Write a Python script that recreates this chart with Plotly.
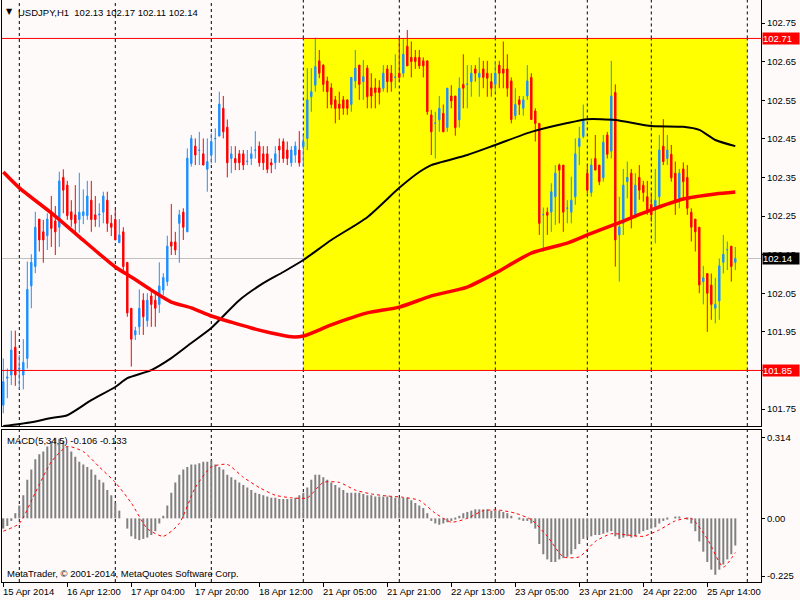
import plotly.graph_objects as go

# ---------------- data ----------------
bars = list(range(184))
opens = [101.760,101.830,101.838,101.910,101.854,101.838,101.881,102.069,102.119,102.242,
         102.209,102.199,102.260,102.237,102.221,102.350,102.330,102.261,102.253,102.241,
         102.251,102.251,102.291,102.253,102.253,102.260,102.291,102.231,102.241,102.181,
         102.209,102.130,102.011,101.942,101.963,102.032,101.979,102.043,102.032,102.021,
         102.058,102.080,102.183,102.183,102.231,102.260,102.209,102.386,102.431,102.420,
         102.411,102.371,102.408,102.450,102.457,102.529,102.480,102.399,102.399,102.411,
         102.411,102.391,102.399,102.420,102.431,102.411,102.411,102.388,102.388,102.431,
         102.443,102.421,102.388,102.408,102.421,102.430,102.451,102.559,102.589,102.652,
         102.641,102.600,102.582,102.551,102.540,102.551,102.551,102.539,102.600,102.641,
         102.598,102.633,102.582,102.582,102.582,102.581,102.631,102.620,102.609,102.620,
         102.620,102.690,102.661,102.661,102.661,102.652,102.652,102.512,102.490,102.499,
         102.516,102.479,102.561,102.561,102.499,102.591,102.591,102.598,102.631,102.609,
         102.631,102.620,102.598,102.591,102.641,102.631,102.631,102.600,102.510,102.551,
         102.529,102.561,102.609,102.522,102.490,102.253,102.260,102.260,102.300,102.382,
         102.382,102.270,102.260,102.300,102.430,102.456,102.361,102.311,102.399,102.382,
         102.349,102.460,102.418,102.570,102.201,102.231,102.339,102.361,102.248,102.350,
         102.330,102.300,102.280,102.266,102.300,102.431,102.399,102.410,102.361,102.292,
         102.372,102.350,102.260,102.242,102.221,102.080,102.101,102.071,102.011,102.030,
         102.130,102.162,102.172,102.130]
highs = [101.881,101.855,101.953,101.953,101.890,101.931,102.132,102.151,102.261,102.242,
         102.240,102.257,102.302,102.276,102.365,102.371,102.341,102.291,102.330,102.362,
         102.319,102.341,102.341,102.302,102.283,102.313,102.313,102.253,102.266,102.242,
         102.221,102.130,102.011,101.963,102.060,102.050,102.050,102.060,102.050,102.130,
         102.102,102.199,102.281,102.209,102.266,102.270,102.425,102.460,102.451,102.468,
         102.451,102.451,102.464,102.477,102.572,102.561,102.500,102.431,102.431,102.421,
         102.421,102.421,102.430,102.470,102.443,102.431,102.431,102.399,102.431,102.451,
         102.451,102.443,102.431,102.443,102.470,102.460,102.633,102.633,102.712,102.680,
         102.643,102.611,102.594,102.561,102.572,102.561,102.551,102.609,102.680,102.641,
         102.654,102.641,102.620,102.607,102.602,102.641,102.641,102.641,102.669,102.712,
         102.710,102.732,102.702,102.680,102.680,102.661,102.652,102.525,102.520,102.561,
         102.539,102.582,102.589,102.561,102.609,102.669,102.641,102.641,102.641,102.661,
         102.652,102.652,102.620,102.652,102.652,102.702,102.669,102.609,102.581,102.561,
         102.561,102.641,102.620,102.529,102.490,102.272,102.272,102.335,102.382,102.386,
         102.382,102.291,102.352,102.451,102.481,102.539,102.382,102.399,102.460,102.382,
         102.460,102.468,102.652,102.591,102.300,102.372,102.391,102.372,102.361,102.382,
         102.341,102.341,102.311,102.372,102.460,102.501,102.460,102.434,102.391,102.372,
         102.389,102.382,102.270,102.242,102.221,102.121,102.101,102.101,102.090,102.140,
         102.201,102.184,102.172,102.170]
lows = [101.739,101.778,101.812,101.810,101.801,101.801,101.855,102.011,102.102,102.158,
        102.129,102.162,102.170,102.149,102.170,102.257,102.240,102.222,102.207,102.207,
        102.229,102.240,102.209,102.222,102.221,102.231,102.209,102.198,102.188,102.181,
        102.102,101.989,101.860,101.929,101.942,101.942,101.963,101.963,101.963,101.999,
        102.045,102.069,102.149,102.149,102.129,102.188,102.209,102.378,102.382,102.382,
        102.382,102.313,102.386,102.388,102.457,102.451,102.350,102.361,102.369,102.369,
        102.369,102.382,102.382,102.399,102.378,102.369,102.361,102.361,102.371,102.388,
        102.388,102.382,102.378,102.388,102.378,102.378,102.421,102.520,102.572,102.607,
        102.572,102.529,102.529,102.490,102.499,102.512,102.512,102.520,102.581,102.551,
        102.551,102.529,102.529,102.529,102.539,102.572,102.570,102.572,102.581,102.598,
        102.609,102.639,102.609,102.631,102.631,102.609,102.512,102.408,102.399,102.468,
        102.468,102.468,102.529,102.458,102.479,102.529,102.529,102.559,102.598,102.559,
        102.581,102.559,102.559,102.570,102.581,102.581,102.559,102.490,102.500,102.512,
        102.510,102.551,102.500,102.443,102.201,102.158,102.201,102.209,102.227,102.231,
        102.209,102.231,102.231,102.279,102.382,102.451,102.309,102.300,102.369,102.330,
        102.339,102.399,102.399,102.119,102.080,102.201,102.296,102.218,102.244,102.292,
        102.287,102.253,102.235,102.179,102.274,102.382,102.382,102.339,102.253,102.270,
        102.292,102.253,102.184,102.158,102.050,102.021,101.950,101.981,101.972,101.981,
        102.101,102.110,102.080,102.110]
closes = [101.821,101.833,101.903,101.838,101.856,101.871,102.060,102.130,102.221,102.188,
          102.188,102.242,102.218,102.209,102.341,102.317,102.251,102.241,102.231,102.260,
          102.261,102.302,102.241,102.241,102.255,102.302,102.231,102.221,102.188,102.201,
          102.119,101.999,101.931,101.953,102.011,101.989,102.032,102.021,102.011,102.069,
          102.091,102.172,102.172,102.162,102.253,102.221,102.400,102.451,102.408,102.421,
          102.382,102.391,102.443,102.451,102.540,102.468,102.388,102.411,102.388,102.388,
          102.382,102.392,102.411,102.421,102.388,102.388,102.371,102.382,102.411,102.421,
          102.399,102.399,102.421,102.431,102.388,102.443,102.551,102.572,102.637,102.620,
          102.591,102.572,102.539,102.529,102.529,102.529,102.529,102.609,102.633,102.591,
          102.611,102.559,102.561,102.570,102.570,102.620,102.598,102.598,102.610,102.609,
          102.669,102.639,102.650,102.650,102.639,102.639,102.520,102.468,102.491,102.529,
          102.468,102.581,102.548,102.479,102.581,102.581,102.592,102.620,102.620,102.620,
          102.609,102.607,102.581,102.620,102.620,102.620,102.581,102.500,102.539,102.539,
          102.551,102.600,102.500,102.490,102.231,102.254,102.252,102.313,102.361,102.369,
          102.260,102.271,102.291,102.411,102.451,102.499,102.317,102.382,102.369,102.339,
          102.441,102.410,102.561,102.188,102.222,102.330,102.350,102.244,102.330,102.317,
          102.311,102.266,102.253,102.291,102.421,102.391,102.421,102.349,102.287,102.361,
          102.339,102.270,102.221,102.209,102.071,102.090,102.050,102.021,102.021,102.121,
          102.151,102.163,102.119,102.140]

ma_red_bars = [0, 4, 12, 19, 28, 32, 37, 42, 47, 52, 57, 62, 67, 72, 75, 82, 91, 99,
               107, 116, 123, 132, 141, 146, 153, 162, 170, 178, 183]
ma_red_vals = [102.364, 102.323, 102.258, 102.196, 102.118, 102.092, 102.058, 102.027,
               102.012, 101.991, 101.975, 101.960, 101.947, 101.937, 101.939, 101.968,
               101.999, 102.014, 102.043, 102.066, 102.102, 102.154, 102.180, 102.201,
               102.229, 102.266, 102.294, 102.307, 102.312]
ma_black_bars = [0, 7, 12, 16, 22, 28, 31, 37, 42, 47, 52, 59, 65, 70, 75, 82, 91, 99,
                 104, 107, 116, 123, 132, 141, 146, 153, 162, 170, 174, 178, 183]
ma_black_vals = [101.706, 101.716, 101.727, 101.734, 101.773, 101.807, 101.830, 101.851,
                 101.882, 101.921, 101.960, 102.032, 102.076, 102.105, 102.136, 102.188,
                 102.247, 102.323, 102.364, 102.382, 102.408, 102.434, 102.468, 102.491,
                 102.501, 102.499, 102.483, 102.481, 102.473, 102.447, 102.431]

macd_hist = [-0.04,-0.03,-0.01,0.02,0.05,0.09,0.15,0.19,0.23,0.25,
             0.26,0.28,0.30,0.314,0.31,0.30,0.28,0.26,0.24,0.22,
             0.21,0.20,0.19,0.17,0.15,0.14,0.11,0.09,0.06,0.03,
             0.00,-0.04,-0.07,-0.08,-0.085,-0.08,-0.075,-0.065,-0.05,-0.02,
             0.01,0.05,0.10,0.14,0.17,0.19,0.20,0.21,0.21,0.215,
             0.22,0.22,0.225,0.21,0.20,0.19,0.17,0.16,0.15,0.14,
             0.13,0.12,0.11,0.10,0.095,0.09,0.085,0.08,0.08,0.075,
             0.075,0.075,0.075,0.08,0.09,0.10,0.12,0.15,0.17,0.17,
             0.16,0.15,0.14,0.13,0.12,0.11,0.10,0.10,0.10,0.10,
             0.095,0.09,0.09,0.085,0.085,0.085,0.085,0.085,0.08,0.08,
             0.08,0.08,0.07,0.06,0.05,0.04,0.02,-0.01,-0.02,-0.025,
             -0.02,-0.015,-0.01,-0.005,0.01,0.02,0.025,0.03,0.035,0.035,
             0.035,0.035,0.03,0.03,0.03,0.025,0.02,0.01,0.0,-0.005,
             -0.01,-0.01,-0.02,-0.04,-0.10,-0.14,-0.16,-0.17,-0.17,-0.16,
             -0.155,-0.15,-0.14,-0.12,-0.10,-0.08,-0.075,-0.07,-0.065,-0.065,
             -0.06,-0.055,-0.05,-0.07,-0.08,-0.075,-0.07,-0.075,-0.07,-0.06,
             -0.05,-0.045,-0.04,-0.035,-0.02,-0.01,-0.005,0.0,0.005,0.005,
             0.0,-0.005,-0.02,-0.05,-0.09,-0.13,-0.17,-0.20,-0.22,-0.20,
             -0.18,-0.16,-0.14,-0.106]
signal_bars = [0, 4, 8, 12, 16, 20, 24, 28, 32, 36, 40, 44, 48, 52, 56, 60, 64, 68, 72,
               76, 80, 84, 88, 92, 96, 100, 104, 108, 112, 116, 120, 124, 128, 132, 136,
               140, 144, 148, 152, 156, 160, 164, 168, 172, 176, 180, 183]
signal_vals = [-0.05, -0.02, 0.10, 0.22, 0.28, 0.26, 0.20, 0.14, 0.06, -0.04, -0.07,
               -0.02, 0.12, 0.20, 0.21, 0.16, 0.12, 0.09, 0.08, 0.08, 0.14, 0.14, 0.11,
               0.095, 0.087, 0.082, 0.07, 0.02, -0.015, 0.0, 0.03, 0.032, 0.02, -0.005,
               -0.07, -0.15, -0.15, -0.09, -0.06, -0.065, -0.07, -0.045, -0.01, 0.0,
               -0.08, -0.19, -0.133]

price_ticks = [102.75, 102.65, 102.55, 102.45, 102.35, 102.25, 102.15, 102.05, 101.95, 101.85, 101.75]
macd_ticks = [0.314, 0.0, -0.225]
macd_tick_text = ["0.314", "0.00", "-0.225"]
date_tick_bars = [0, 16, 32, 48, 64, 80, 96, 112, 128, 144, 160, 176]
date_tick_labels = ["15 Apr 2014", "16 Apr 12:00", "17 Apr 04:00", "17 Apr 20:00",
                    "18 Apr 12:00", "21 Apr 05:00", "21 Apr 21:00", "22 Apr 13:00",
                    "23 Apr 05:00", "23 Apr 21:00", "24 Apr 22:00", "25 Apr 14:00"]
separator_bars = [4, 28, 52, 75, 99, 123, 146, 162, 186]
rect_start_bar, rect_end_bar = 75, 186
level_hi, level_lo = 102.71, 101.85
bid_price = 102.14
header_text = "USDJPY,H1\u00a0\u00a0102.13 102.17 102.11 102.14"
macd_text = "MACD(5,34,5) -0.106 -0.133"
copyright_text = "MetaTrader, \u00a9 2001-2014, MetaQuotes Software Corp."

# ---------------- layout geometry ----------------
W, H = 800, 600
ML, MR, MT, MB = 2, 39, 0, 18
PW, PH = W - ML - MR, H - MT - MB
X_RANGE = [-0.325, 189.425]
Y_MAIN = [101.706, 102.8096]
Y_MACD = [-0.248, 0.346]
MAIN_DOM = [0.268, 1.0]
MACD_DOM = [0.0, 0.262]
BG = "#FFFAFA"
FONT = "Liberation Sans"
FS = 9.5

def px(xp):
    return (xp - ML) / PW

def py(yp):
    return (H - MB - yp) / PH

fig = go.Figure()

fig.add_trace(go.Candlestick(
    x=bars, open=opens, high=highs, low=lows, close=closes,
    increasing=dict(line=dict(color="#1E90FF", width=1), fillcolor="#1E90FF"),
    decreasing=dict(line=dict(color="#FF0000", width=1), fillcolor="#FF0000"),
    whiskerwidth=0, xaxis="x", yaxis="y", hoverinfo="skip", showlegend=False))

fig.add_trace(go.Scatter(x=ma_black_bars, y=ma_black_vals, mode="lines",
                         line=dict(color="black", width=2, shape="spline", smoothing=0.6),
                         xaxis="x", yaxis="y", hoverinfo="skip"))
fig.add_trace(go.Scatter(x=ma_red_bars, y=ma_red_vals, mode="lines",
                         line=dict(color="#FF0000", width=3.5, shape="spline", smoothing=0.6),
                         xaxis="x", yaxis="y", hoverinfo="skip"))

fig.add_trace(go.Bar(x=bars, y=macd_hist, marker=dict(color="#808080", line=dict(width=0)),
                     width=0.5, xaxis="x2", yaxis="y2", hoverinfo="skip"))
fig.add_trace(go.Scatter(x=signal_bars, y=signal_vals, mode="lines",
                         line=dict(color="#FF0000", width=1, dash="dot", shape="spline", smoothing=0.6),
                         xaxis="x2", yaxis="y2", hoverinfo="skip"))

shapes = []
shapes.append(dict(type="rect", xref="x", yref="y", x0=rect_start_bar, x1=rect_end_bar,
                   y0=level_lo, y1=level_hi, fillcolor="#FFFF00", line=dict(width=0), layer="below"))
for b in separator_bars:
    dash_style = dict(color="black", width=1, dash="3px,3px")
    if rect_start_bar <= b <= rect_end_bar:
        shapes.append(dict(type="line", xref="x", yref="y", x0=b, x1=b, y0=level_hi, y1=Y_MAIN[1],
                           line=dash_style, layer="below"))
        shapes.append(dict(type="line", xref="x", yref="y", x0=b, x1=b, y0=Y_MAIN[0], y1=level_lo,
                           line=dash_style, layer="below"))
        shapes.append(dict(type="line", xref="x", yref="y", x0=b, x1=b, y0=level_lo, y1=level_hi,
                           line=dict(color="#0000A0", width=1, dash="3px,3px"), layer="below"))
    else:
        shapes.append(dict(type="line", xref="x", yref="y", x0=b, x1=b, y0=Y_MAIN[0], y1=Y_MAIN[1],
                           line=dash_style, layer="below"))
    shapes.append(dict(type="line", xref="x2", yref="y2", x0=b, x1=b, y0=Y_MACD[0], y1=Y_MACD[1],
                       line=dash_style, layer="below"))
shapes.append(dict(type="line", xref="x domain", yref="y", x0=0, x1=1, y0=bid_price, y1=bid_price,
                   line=dict(color="#C0C0C0", width=1), layer="below"))
for lv in (level_hi, level_lo):
    shapes.append(dict(type="line", xref="x domain", yref="y", x0=0, x1=1, y0=lv, y1=lv,
                       line=dict(color="#FF0000", width=1), layer="above"))

annotations = []
annotations.append(dict(xref="paper", yref="paper", x=px(4), y=py(11), xanchor="left", yanchor="middle",
                        text="\u25BC", showarrow=False, font=dict(family="DejaVu Sans", size=8, color="black")))
annotations.append(dict(xref="paper", yref="paper", x=px(16), y=py(12), xanchor="left", yanchor="middle",
                        text=header_text, showarrow=False, font=dict(family=FONT, size=FS, color="black")))
annotations.append(dict(xref="paper", yref="paper", x=px(5), y=py(440), xanchor="left", yanchor="middle",
                        text=macd_text, showarrow=False, font=dict(family=FONT, size=FS, color="black")))
annotations.append(dict(xref="paper", yref="paper", x=px(5), y=py(573), xanchor="left", yanchor="middle",
                        text=copyright_text, showarrow=False, font=dict(family=FONT, size=FS, color="black")))
for b, lab in zip(date_tick_bars, date_tick_labels):
    annotations.append(dict(xref="x2", yref="paper", x=b, y=py(591), xanchor="left", yanchor="middle",
                            xshift=-2, text=lab, showarrow=False,
                            font=dict(family=FONT, size=FS, color="black")))
for lv, bg in ((level_hi, "#FF0000"), (level_lo, "#FF0000"), (bid_price, "#000000")):
    annotations.append(dict(xref="paper", yref="y", x=1, y=lv, xanchor="left", yanchor="middle",
                            text="%.2f" % lv, showarrow=False, bgcolor=bg, width=36, height=11,
                            align="left", borderpad=0, xshift=1,
                            font=dict(family=FONT, size=FS, color="white")))

# tick label hidden where the level box shows the same value
price_tick_text = ["" if abs(t - level_lo) < 1e-9 else "%.2f" % t for t in price_ticks]

axis_common = dict(showgrid=False, zeroline=False, showline=True, mirror=True,
                   linecolor="black", linewidth=1)

fig.update_layout(
    width=W, height=H, margin=dict(l=ML, r=MR, t=MT, b=MB),
    paper_bgcolor=BG, plot_bgcolor=BG, showlegend=False, boxgap=0.5, bargap=0.5,
    xaxis=dict(domain=[0, 1], range=X_RANGE, anchor="y", showticklabels=False, ticks="",
               rangeslider=dict(visible=False), **axis_common),
    yaxis=dict(domain=MAIN_DOM, range=Y_MAIN, anchor="x", side="right",
               tickvals=price_ticks, ticktext=price_tick_text,
               ticks="outside", ticklen=3, tickcolor="black",
               tickfont=dict(family=FONT, size=FS, color="black"), **axis_common),
    xaxis2=dict(domain=[0, 1], range=X_RANGE, anchor="y2", showticklabels=False,
                tickvals=date_tick_bars, ticks="outside", ticklen=4, tickcolor="black", **axis_common),
    yaxis2=dict(domain=MACD_DOM, range=Y_MACD, anchor="x2", side="right",
                tickvals=macd_ticks, ticktext=macd_tick_text,
                ticks="outside", ticklen=3, tickcolor="black",
                tickfont=dict(family=FONT, size=FS, color="black"), **axis_common),
    shapes=shapes, annotations=annotations,
)

fig.write_html("out.html", config={"displayModeBar": False},
               post_script="document.body.style.margin='0';document.body.style.padding='0';"
                           "document.documentElement.style.background='" + BG + "';")
